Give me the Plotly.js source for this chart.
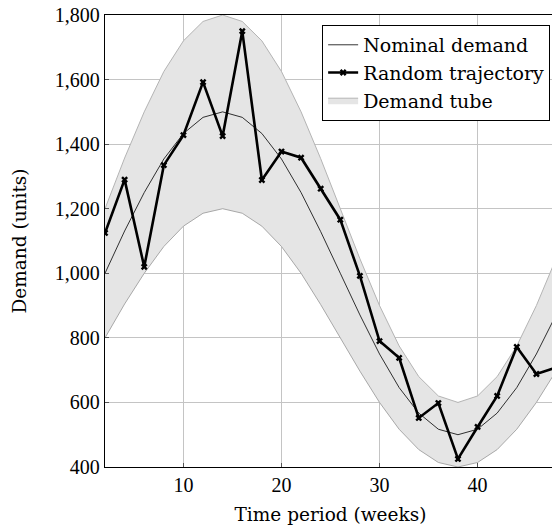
<!DOCTYPE html>
<html>
<head>
<meta charset="utf-8">
<script src="https://cdn.plot.ly/plotly-3.0.1.min.js"></script>
<style>
  html, body { margin: 0; padding: 0; overflow: hidden; background: #fff; }
  #chart { width: 560px; height: 532px; }
</style>
</head>
<body>
<div id="chart"></div>
<script>
// Weekly demand: nominal curve, ±20% tube and one sampled trajectory
const weeks = [2, 4, 6, 8, 10, 12, 14, 16, 18, 20, 22, 24, 26, 28, 30, 32, 34, 36, 38, 40, 42, 44, 46, 48];
const nominal = [1000, 1131, 1250, 1354, 1433, 1483, 1500, 1483, 1433, 1354, 1250, 1129,
                 1000, 871, 750, 646, 567, 517, 500, 517, 567, 646, 750, 871];
const tubeUpper = [1200, 1357, 1500, 1625, 1720, 1780, 1800, 1780, 1720, 1625, 1500, 1355,
                   1200, 1045, 900, 775, 680, 620, 600, 620, 680, 775, 900, 1045];
const tubeLower = [800, 905, 1000, 1083, 1146, 1186, 1200, 1186, 1146, 1083, 1000, 903,
                   800, 697, 600, 517, 454, 414, 400, 414, 454, 517, 600, 697];
const trajectory = [1125, 1290, 1020, 1335, 1428, 1592, 1425, 1750, 1289, 1377, 1358, 1262,
                    1166, 992, 790, 738, 552, 598, 425, 524, 620, 772, 688, 708];
const yTicks = [400, 600, 800, 1000, 1200, 1400, 1600, 1800];
const yTickText = ['400', '600', '800', '1,000', '1,200', '1,400', '1,600', '1,800'];
const xTicks = [10, 20, 30, 40];

const textFont = 'DejaVu Serif, Liberation Serif, serif';
const tickFont = 'Liberation Serif, DejaVu Serif, serif';

const traces = [
  {
    x: weeks, y: tubeLower, mode: 'lines', showlegend: false, hoverinfo: 'skip',
    legendgroup: 'tube', line: { color: '#a8a8a8', width: 1 }
  },
  {
    x: weeks, y: tubeUpper, mode: 'lines', name: 'Demand tube', fill: 'tonexty',
    legendgroup: 'tube', fillcolor: '#e5e5e5', line: { color: '#b4b4b4', width: 1 }, legendrank: 3
  },
  {
    x: weeks, y: nominal, mode: 'lines', name: 'Nominal demand', legendgroup: 'nominal',
    line: { color: '#000', width: 0.8 }, legendrank: 1
  },
  {
    x: weeks, y: trajectory, mode: 'lines+markers', name: 'Random trajectory', legendgroup: 'traj',
    line: { color: '#000', width: 2.6 },
    marker: { symbol: 'x', size: 6, color: '#000', line: { width: 0 } }, legendrank: 2
  }
];

const layout = {
  width: 560, height: 532,
  margin: { l: 105, r: 4, t: 15, b: 65 },
  paper_bgcolor: '#fff', plot_bgcolor: '#fff',
  font: { family: textFont, size: 18, color: '#000' },
  showlegend: true,
  legend: {
    x: 0.987, xanchor: 'right', y: 0.978, yanchor: 'top', traceorder: 'grouped',
    bgcolor: '#fff', bordercolor: '#000', borderwidth: 1,
    font: { family: textFont, size: 19 }, tracegroupgap: 0, itemwidth: 30
  },
  xaxis: {
    range: [2, 48], tickvals: xTicks, ticktext: xTicks.map(String),
    showgrid: true, gridcolor: '#c4c4c4', gridwidth: 1, zeroline: false,
    showline: true, linecolor: '#000', linewidth: 1.2, mirror: true,
    ticks: 'inside', ticklen: 4, tickcolor: '#555',
    tickfont: { family: tickFont, size: 20 },
    title: { text: 'Time period (weeks)', font: { family: textFont, size: 18.5 }, standoff: 12 }
  },
  yaxis: {
    range: [400, 1800], tickvals: yTicks, ticktext: yTickText,
    showgrid: true, gridcolor: '#c4c4c4', gridwidth: 1, zeroline: false,
    showline: true, linecolor: '#000', linewidth: 1.2, mirror: true,
    ticks: 'inside', ticklen: 4, tickcolor: '#555',
    tickfont: { family: tickFont, size: 20 },
    title: { text: 'Demand (units)', font: { family: textFont, size: 18.5 }, standoff: 23 }
  }
};

Plotly.newPlot('chart', traces, layout, { displayModeBar: false, staticPlot: true });
</script>
</body>
</html>
